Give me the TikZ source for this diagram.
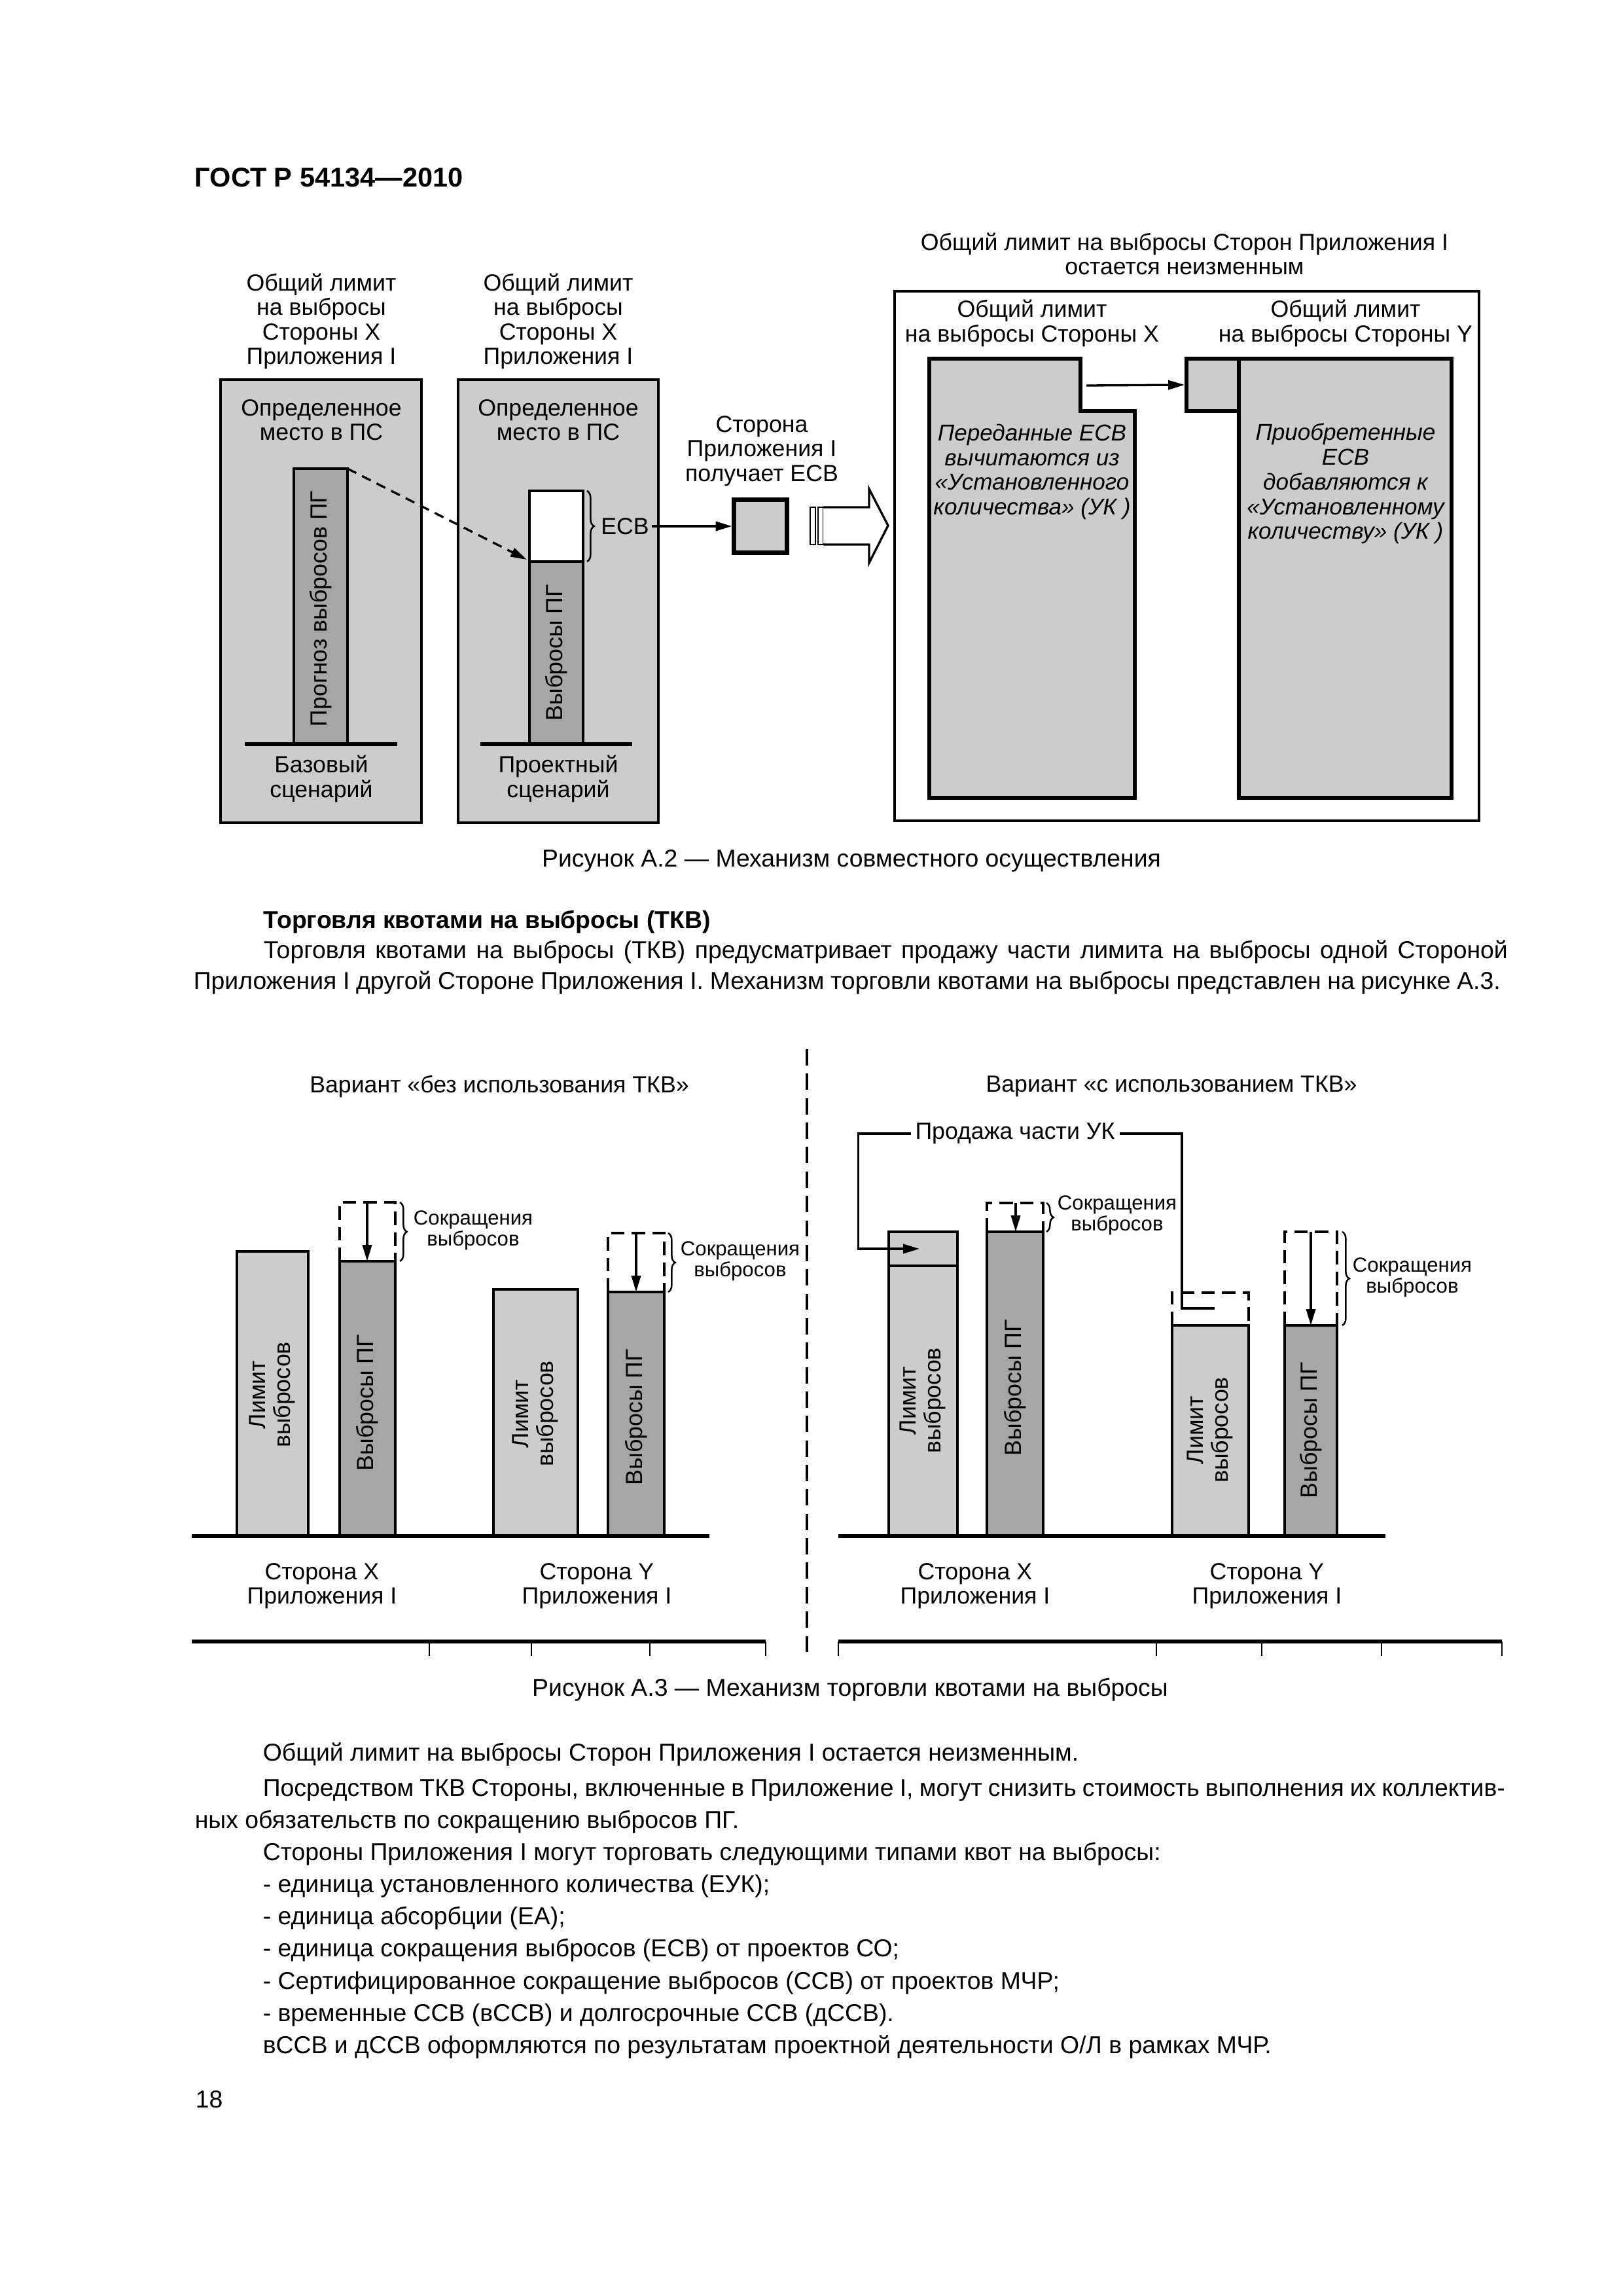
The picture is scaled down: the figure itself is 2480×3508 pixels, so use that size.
\documentclass[tikz,border=0pt]{standalone}
\usepackage{fontspec}
\setmainfont{Liberation Sans}
\usetikzlibrary{arrows.meta,decorations.pathreplacing,calc}
\definecolor{BoxGray}{HTML}{CCCCCC}
\definecolor{BarGray}{HTML}{A6A6A6}
\newlength\pxu
\setlength\pxu{0.24093pt}
\tikzset{
    % Figure labels
    figlabel/.style={
        font=\fontsize{8.6}{9}\selectfont,
        align=center,
        inner sep=0pt
    },
    % Italic text inside the limit boxes
    figitalic/.style={
        figlabel,
        font=\fontsize{8.45}{9.1}\selectfont\itshape
    },
    % Labels next to the braces
    reduclabel/.style={
        figlabel,
        font=\fontsize{7.5}{7.8}\selectfont
    },
    % Running text of the page
    bodyline/.style={
        font=\fontsize{9}{11.8}\selectfont,
        anchor=base west,
        inner sep=0pt
    },
    % Figure captions
    captionline/.style={
        font=\fontsize{9}{11}\selectfont,
        anchor=base,
        inner sep=0pt
    },
    % Grey frames of figure A.2
    boxframe/.style={
        draw=black,
        fill=BoxGray,
        line width=1pt
    },
    % Limit bars
    limitbar/.style={
        draw=black,
        fill=BoxGray,
        line width=0.9pt
    },
    % Emission bars
    emisbar/.style={
        draw=black,
        fill=BarGray,
        line width=0.9pt
    },
    % Thick base lines
    groundline/.style={
        line width=1.5pt
    },
    % Dashed reduction outline
    dashtop/.style={
        dash pattern=on 5pt off 2.6pt,
        line width=0.9pt
    },
    % Arrow styles
    myarrow/.style={
        -{Triangle[length=6pt,width=3.4pt]},
        line width=0.8pt
    },
    dasharrow/.style={
        myarrow,
        dash pattern=on 3.6pt off 2.4pt
    },
    % Brace at the side of a bar
    sidebrace/.style={
        decorate,
        decoration={brace, amplitude=2.6pt},
        line width=0.6pt
    },
    axistick/.style={
        line width=0.7pt
    }
}
\begin{document}
\begin{tikzpicture}[x=0.24093pt, y=-0.24093pt]
    \useasboundingbox (0,0) rectangle (2480,3508);
    \fill[white] (0,0) rectangle (2480,3508);

    % Header
    \node[font=\fontsize{10}{12}\selectfont\bfseries, anchor=base west, inner sep=0pt] (hdr) at (297,285) {ГОСТ Р 54134—2010};

    % ---------- Figure A.2 ----------
    % Baseline scenario
    \node[figlabel] (limX1) at (491,491) {Общий лимит\\на выбросы\\Стороны X\\Приложения I};
    \draw[boxframe] (337,580) rectangle (644,1257);
    \node[figlabel] (placeA) at (491,642) {Определенное\\место в ПС};
    \draw[emisbar] (449,716) rectangle (531,1137);
    \node[figlabel, rotate=90] (fcast) at (490,930) {Прогноз выбросов ПГ};
    \draw[groundline] (374,1137) -- (607,1137);
    \node[figlabel] (baseSc) at (491,1190) {Базовый\\сценарий};
    \coordinate (fcTop) at (531,716);

    % Project scenario
    \node[figlabel] (limX2) at (853,491) {Общий лимит\\на выбросы\\Стороны X\\Приложения I};
    \draw[boxframe] (700,580) rectangle (1006,1257);
    \node[figlabel] (placeB) at (853,642) {Определенное\\место в ПС};
    \draw[line width=0.9pt, fill=white] (809,750) rectangle (891,858);
    \draw[emisbar] (809,858) rectangle (891,1137);
    \node[figlabel, rotate=90] (emisB) at (850,997) {Выбросы ПГ};
    \draw[groundline] (734,1137) -- (966,1137);
    \node[figlabel] (projSc) at (853,1190) {Проектный\\сценарий};
    \coordinate (wbCorner) at (805,855);
    \draw[sidebrace] (897,750) -- (897,858);
    \node[figlabel] (ecv) at (955,804) {ЕСВ};

    % Arrows
    \draw[dasharrow] (fcTop) -- (wbCorner);
    \node[figlabel] (recvTxt) at (1164,689) {Сторона\\Приложения I\\получает ЕСВ};
    \node[draw, line width=1.5pt, fill=BoxGray, minimum size=19.5pt, inner sep=0pt] (recvSq) at (1162,804) {};
    \draw[myarrow] (ecv.east) ++(3,0) -- (recvSq.west);

    % Block arrow
    \draw[line width=0.6pt, fill=white] (1238,775) rectangle (1246,832);
    \draw[line width=0.6pt, fill=white] (1250,775) rectangle (1258,832);
    \draw[line width=0.8pt, fill=white] (1258,775) -- (1328,775) -- (1328,747) -- (1357,803)
        -- (1328,860) -- (1328,832) -- (1258,832);

    % Overall limit frame
    \node[figlabel] (totTitle) at (1810,388) {Общий лимит на выбросы Сторон Приложения I\\остается неизменным};
    \draw[line width=1pt] (1367,445) rectangle (2260,1254);
    \node[figlabel] (limXr) at (1577,494) {Общий лимит\\на выбросы Стороны X};
    \node[figlabel] (limYr) at (2056,494) {Общий лимит\\на выбросы Стороны Y};
    \draw[boxframe, line width=1.4pt] (1420,548) -- (1651,548) -- (1651,628) -- (1734,628)
        -- (1734,1219) -- (1420,1219) -- cycle;
    \draw[boxframe, line width=1.4pt] (1893,548) rectangle (2218,1219);
    \node[draw, line width=1.4pt, fill=BoxGray, minimum size=19.3pt, inner sep=0pt] (addSq) at (1853,588) {};
    \coordinate (notchX) at (1660,589);
    \draw[myarrow] (notchX) -- (addSq.west);
    \node[figitalic] (txtX) at (1577,721) {Переданные ЕСВ\\вычитаются из\\«Установленного\\количества» (УК )};
    \node[figitalic] (txtY) at (2056,739) {Приобретенные\\ЕСВ\\добавляются к\\«Установленному\\количеству» (УК )};

    \node[captionline] (capA2) at (1301,1324) {Рисунок А.2 — Механизм совместного осуществления};

    % ---------- Text ----------
    \node[bodyline, font=\fontsize{9}{11.8}\selectfont\bfseries] (tkvHead) at (402,1418) {Торговля квотами на выбросы (ТКВ)};
    \node[bodyline] (tkvP1) at (402,1464) {\makebox[1901\pxu][s]{Торговля квотами на выбросы (ТКВ) предусматривает продажу части лимита на выбросы одной Стороной}};
    \node[bodyline] (tkvP2) at (295,1511) {\makebox[1997\pxu][s]{Приложения I другой Стороне Приложения I. Механизм торговли квотами на выбросы представлен на рисунке А.3.}};

    % ---------- Figure A.3 ----------
    \draw[dash pattern=on 6pt off 3pt, line width=0.8pt] (1233,1603) -- (1233,2530);
    \node[figlabel] (varNo) at (763,1660) {Вариант «без использования ТКВ»};
    \node[figlabel] (varYes) at (1790,1660) {Вариант «с использованием ТКВ»};

    % Without trading
    \draw[limitbar] (362,1912) rectangle (471,2347);
    \node[figlabel, rotate=90] (limL1) at (416,2131) {Лимит\\выбросов};
    \draw[emisbar] (519,1927) rectangle (604,2347);
    \node[figlabel, rotate=90] (emL1) at (561,2143) {Выбросы ПГ};
    \draw[dashtop] (519,1927) -- (519,1837) -- (604,1837) -- (604,1927);
    \draw[myarrow] (561,1837) -- (561,1927);
    \draw[sidebrace] (611,1837) -- (611,1927);
    \node[reduclabel] (redL1) at (723,1880) {Сокращения\\выбросов};

    \draw[limitbar] (754,1970) rectangle (883,2347);
    \node[figlabel, rotate=90] (limL2) at (818,2160) {Лимит\\выбросов};
    \draw[emisbar] (929,1974) rectangle (1015,2347);
    \node[figlabel, rotate=90] (emL2) at (972,2165) {Выбросы ПГ};
    \draw[dashtop] (929,1974) -- (929,1884) -- (1015,1884) -- (1015,1974);
    \draw[myarrow] (972,1884) -- (972,1974);
    \draw[sidebrace] (1021,1884) -- (1021,1974);
    \node[reduclabel] (redL2) at (1131,1927) {Сокращения\\выбросов};

    \draw[groundline] (293,2347) -- (1084,2347);
    \node[figlabel] (sideXl) at (492,2423) {Сторона X\\Приложения I};
    \node[figlabel] (sideYl) at (912,2423) {Сторона Y\\Приложения I};

    % With trading
    \draw[limitbar] (1358,1882) rectangle (1463,2347);
    \draw[line width=0.9pt] (1358,1934) -- (1463,1934);
    \node[figlabel, rotate=90] (limR1) at (1410,2140) {Лимит\\выбросов};
    \draw[emisbar] (1508,1882) rectangle (1594,2347);
    \node[figlabel, rotate=90] (emR1) at (1551,2120) {Выбросы ПГ};
    \draw[dashtop] (1508,1882) -- (1508,1838) -- (1594,1838) -- (1594,1882);
    \draw[myarrow] (1552,1838) -- (1552,1882);
    \draw[sidebrace] (1599,1838) -- (1599,1882);
    \node[reduclabel] (redR1) at (1707,1857) {Сокращения\\выбросов};

    \draw[limitbar] (1791,2025) rectangle (1908,2347);
    \draw[dashtop] (1791,2025) -- (1791,1975) -- (1908,1975) -- (1908,2025);
    \node[figlabel, rotate=90] (limR2) at (1849,2185) {Лимит\\выбросов};
    \draw[emisbar] (1963,2025) rectangle (2043,2347);
    \node[figlabel, rotate=90] (emR2) at (2003,2185) {Выбросы ПГ};
    \draw[dashtop] (1963,2025) -- (1963,1882) -- (2043,1882) -- (2043,2025);
    \draw[myarrow] (2003,1882) -- (2003,2025);
    \draw[sidebrace] (2051,1882) -- (2051,2025);
    \node[reduclabel] (redR2) at (2158,1952) {Сокращения\\выбросов};

    % Sale of part of the assigned amount
    \node[figlabel, inner sep=1.5pt] (saleLbl) at (1551,1732) {Продажа части УК};
    \coordinate (saleIn) at (1405,1908);
    \coordinate (saleOut) at (1856,1999);
    \draw[myarrow] (saleLbl.west) -- ++(-80,0) |- (saleIn);
    \draw[line width=0.8pt] (saleLbl.east) -| ($(saleOut)+(-50,0)$) -- (saleOut);

    \draw[groundline] (1281,2347) -- (2117,2347);
    \node[figlabel] (sideXr) at (1490,2423) {Сторона X\\Приложения I};
    \node[figlabel] (sideYr) at (1936,2423) {Сторона Y\\Приложения I};

    % Bottom axes
    \draw[groundline] (293,2508) -- (1170,2508);
    \draw[groundline] (1281,2508) -- (2295,2508);
    \foreach \tx in {656,812,993,1170,1281,1767,1928,2111,2295}
        \draw[axistick] (\tx,2508) -- (\tx,2530);

    \node[captionline] (capA3) at (1299,2591) {Рисунок А.3 — Механизм торговли квотами на выбросы};

    % ---------- Text below ----------
    \node[bodyline] (t1) at (401,2690) {Общий лимит на выбросы Сторон Приложения I остается неизменным.};
    \node[bodyline] (t2) at (401,2744) {\makebox[1898\pxu][s]{Посредством ТКВ Стороны, включенные в Приложение I, могут снизить стоимость выполнения их коллектив-}};
    \node[bodyline] (t3) at (297,2793) {ных обязательств по сокращению выбросов ПГ.};
    \node[bodyline] (t4) at (401,2842) {Стороны Приложения I могут торговать следующими типами квот на выбросы:};
    \node[bodyline] (t5) at (401,2891) {- единица установленного количества (ЕУК);};
    \node[bodyline] (t6) at (401,2940) {- единица абсорбции (ЕА);};
    \node[bodyline] (t7) at (401,2989) {- единица сокращения выбросов (ЕСВ) от проектов СО;};
    \node[bodyline] (t8) at (401,3039) {- Сертифицированное сокращение выбросов (ССВ) от проектов МЧР;};
    \node[bodyline] (t9) at (401,3088) {- временные ССВ (вССВ) и долгосрочные ССВ (дССВ).};
    \node[bodyline] (t10) at (401,3137) {вССВ и дССВ оформляются по результатам проектной деятельности О/Л в рамках МЧР.};

    \node[bodyline] (pageNo) at (298,3220) {18};
\end{tikzpicture}
\end{document}
